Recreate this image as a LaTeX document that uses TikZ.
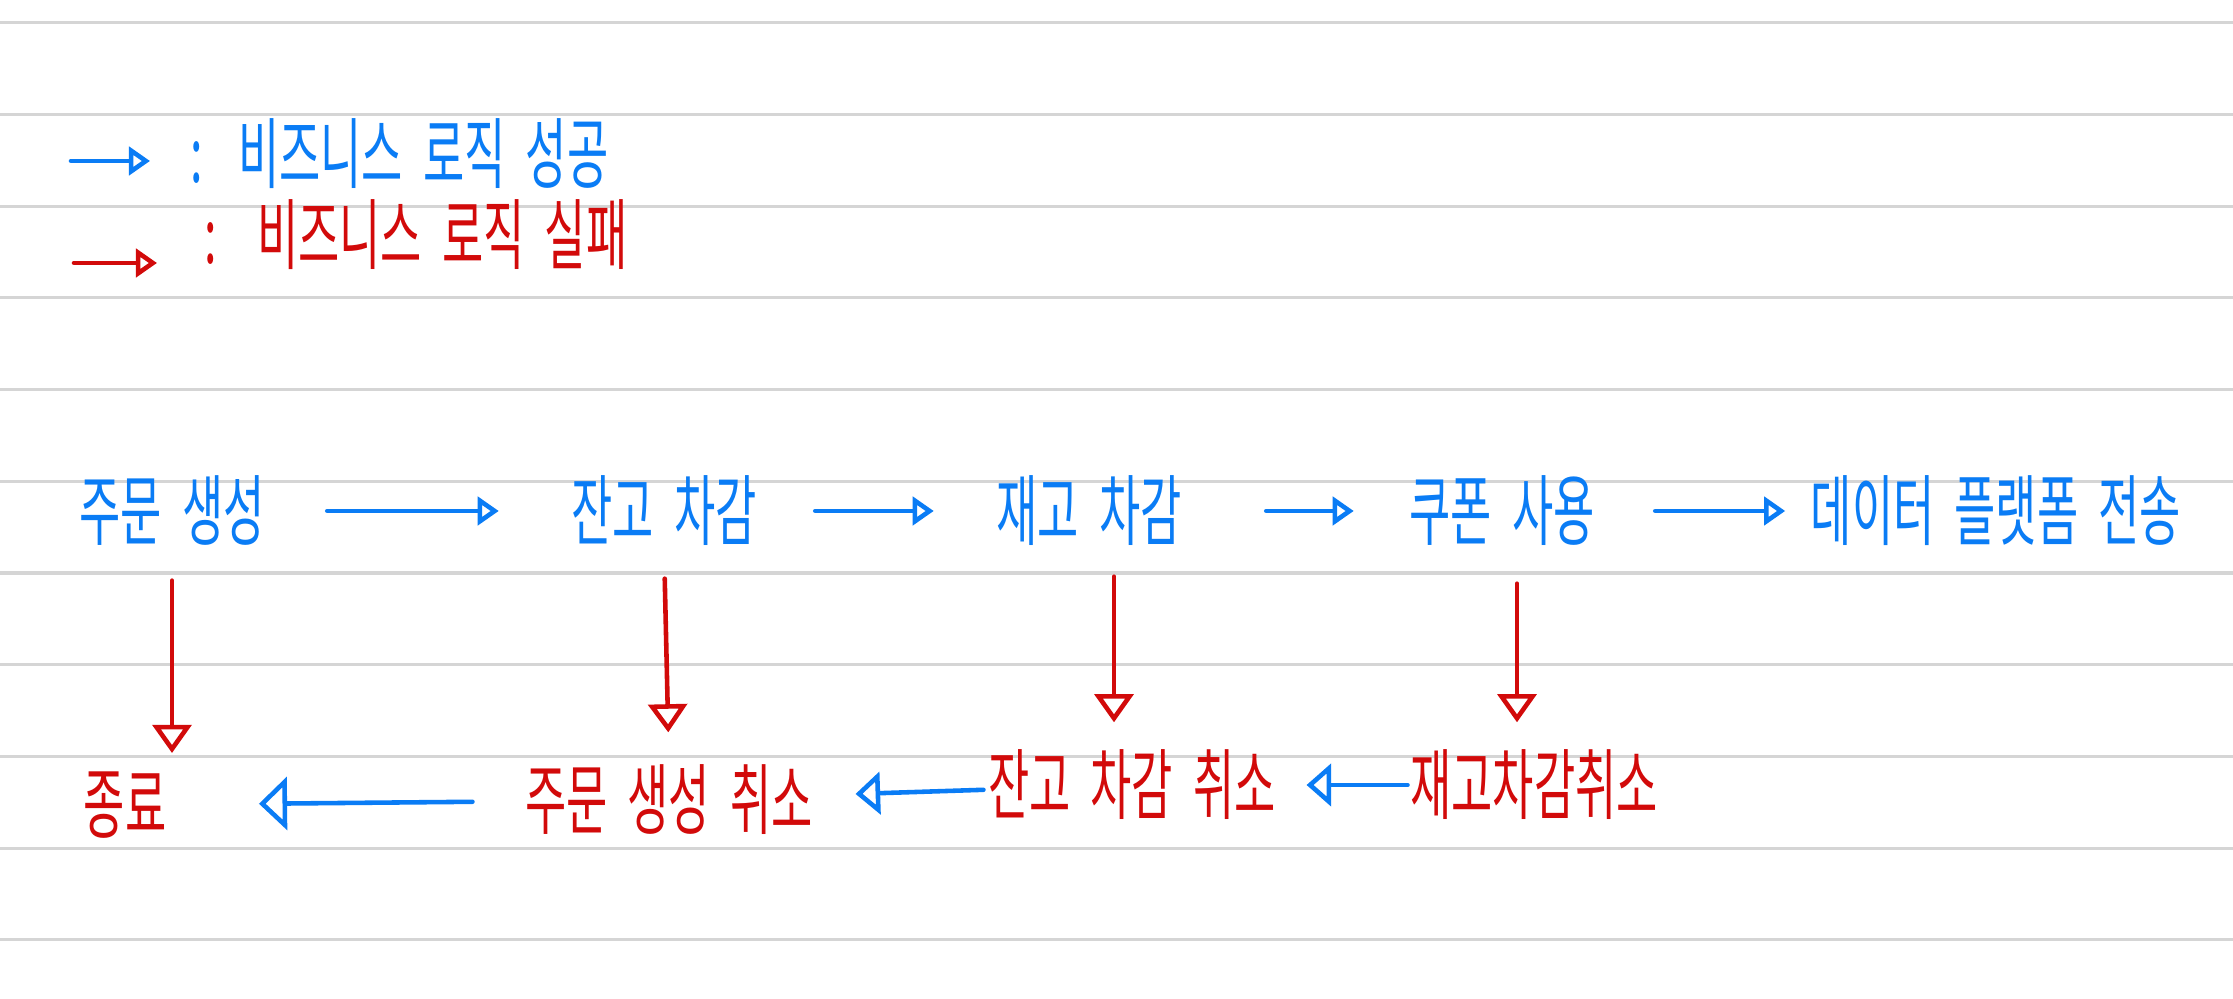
\documentclass[tikz,border=0pt]{standalone}
\usepackage{fontspec}
\usepackage{tikz}
\usetikzlibrary{positioning, arrows.meta}
\newfontfamily\kofont[FakeStretch=0.58, WordSpace=2]{Noto Sans CJK KR}
\definecolor{penBlue}{HTML}{0A7CF5}
\definecolor{penRed}{HTML}{D20A0A}
\definecolor{noteGrey}{HTML}{D5D5D5}
\colorlet{flowOk}{penBlue}
\colorlet{flowFail}{penRed}
\colorlet{paperRule}{noteGrey}

\begin{document}
\begin{tikzpicture}[font=\kofont\fontsize{22}{26}\selectfont,
  okline/.style={draw=flowOk, line width=1.3pt, line cap=round,
                 -{Triangle[open, length=6pt, width=8pt]}},
  failline/.style={draw=flowFail, line width=1.3pt, line cap=round,
                   -{Triangle[open, length=8pt, width=11pt]}},
  oktext/.style={text=flowOk, inner sep=0pt},
  failtext/.style={text=flowFail, inner sep=0pt}]
  \fill[white] (0,0) rectangle (22.33,9.99);
  \useasboundingbox (0,0) rectangle (22.33,9.99);
  \foreach \i in {0,...,10}
    \draw[paperRule, line width=0.9pt] (0,{9.762-0.917*\i}) -- (22.33,{9.762-0.917*\i});

  % legend
  \node[oktext, anchor=west] (lg1) at (1.90,8.45) {:\hspace{0.35cm}비즈니스 로직 성공};
  \node[failtext, anchor=west] (lg2) at (2.04,7.64) {:\hspace{0.40cm}비즈니스 로직 실패};
  \coordinate (lk1) at (0.71,8.38);
  \coordinate (lk2) at (0.74,7.36);
  \draw[okline, shorten >=0.40cm] (lk1) -- (lk1 -| lg1.west);
  \draw[failline, -{Triangle[open, length=6pt, width=8pt]}, shorten >=0.47cm] (lk2) -- (lk2 -| lg2.west);

  \node[oktext] (o1) at (1.72,4.88) {주문 생성};
  \node[oktext] (o2) at (6.64,4.88) {잔고 차감};
  \node[oktext] (o3) at (10.89,4.88) {재고 차감};
  \node[oktext] (o4) at (15.02,4.88) {쿠폰 사용};
  \node[oktext] (o5) at (19.96,4.88) {데이터 플랫폼 전송};

  \node[failtext] (f1) at (1.25,1.94) {종료};
  \node[failtext] (f2) at (6.69,1.99) {주문 생성 취소};
  \node[failtext] (f3) at (11.32,2.14) {잔고 차감 취소};
  \node[failtext] (f4) at (15.34,2.14) {재고차감취소};

  \draw[okline, shorten <=0.62cm, shorten >=0.72cm] (o1) -- (o2);
  \draw[okline, shorten <=0.58cm, shorten >=0.62cm] (o2) -- (o3);
  \draw[okline, shorten <=0.84cm, shorten >=0.55cm] (o3) -- (o4);
  \draw[okline, shorten <=0.60cm, shorten >=0.25cm] (o4) -- (o5);

  \draw[failline, shorten <=0.34cm, shorten >=0.18cm] (o1.south) -- (o1.south |- f1.north);
  \draw[failline, shorten <=0.32cm, shorten >=0.32cm] (o2.south) -- (f2.north);
  \draw[failline, shorten <=0.30cm, shorten >=0.27cm]
    ([xshift=0.25cm]o3.south) -- ([xshift=0.25cm]o3.south |- f3.north);
  \draw[failline, shorten <=0.37cm, shorten >=0.27cm]
    ([xshift=0.15cm]o4.south) -- ([xshift=0.15cm]o4.south |- f4.north);

  \draw[okline, -{Triangle[open, length=8pt, width=15pt]},
        shorten <=0.52cm, shorten >=0.92cm] (f2) -- (f1);
  \draw[okline, -{Triangle[open, length=7pt, width=12pt]},
        shorten <=0.04cm, shorten >=0.42cm] (f3) -- (f2);
  \draw[okline, -{Triangle[open, length=7pt, width=12pt]},
        shorten <=0.02cm, shorten >=0.30cm] (f4) -- (f3);
\end{tikzpicture}
\end{document}
